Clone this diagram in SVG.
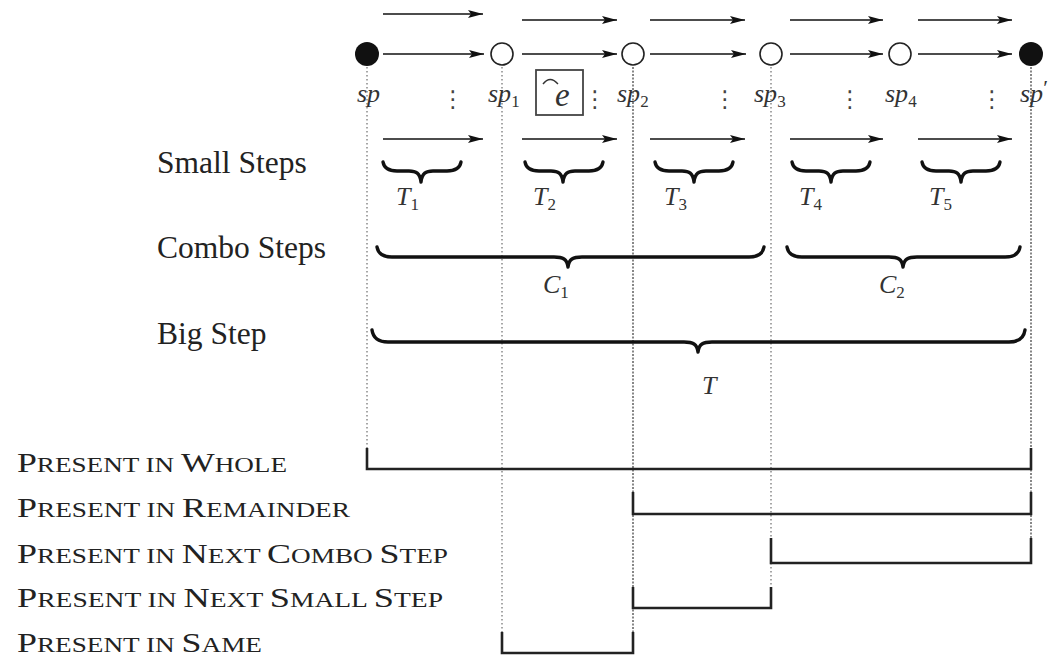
<svg xmlns="http://www.w3.org/2000/svg" width="1054" height="656" viewBox="0 0 1054 656">
<defs>
<marker id="ah" markerWidth="16" markerHeight="10" refX="15" refY="5" orient="auto" markerUnits="userSpaceOnUse">
<path d="M0,1 L15,5 L0,9 L3,5 z" fill="#111"/>
</marker>
<style>
.arr{stroke:#111;stroke-width:1.6;fill:none;marker-end:url(#ah)}
.dot{stroke:#777;stroke-width:1.3;stroke-dasharray:1.5 2.5;fill:none}
.dotd{stroke:#555;stroke-width:1.4;stroke-dasharray:2 1.5;fill:none}
.brk{stroke:#222;stroke-width:2.6;fill:none}
.brace{stroke:#111;stroke-width:3.4;fill:none;stroke-linejoin:round;stroke-linecap:round}
.lbl{font-family:"Liberation Serif","Times New Roman",serif;font-size:31.5px;fill:#222}
.math{font-family:"Liberation Serif","Times New Roman",serif;font-style:italic;font-size:26px;fill:#333}
.sub{font-size:17px;font-style:normal}
.prime{font-size:22px;font-style:normal}
.ehat{font-size:33px}
.sc{font-family:"Liberation Serif","Times New Roman",serif;fill:#222}
.big{font-size:27px}
.sm{font-size:20.5px}
.vd{font-family:"DejaVu Sans",sans-serif;font-size:23px;fill:#444;text-anchor:middle}
.open{fill:#fff;stroke:#222;stroke-width:1.6}
.fill{fill:#111}
</style>
</defs>

<!-- dotted guide lines -->
<g id="guides">
<line class="dot" x1="367" y1="67" x2="367" y2="448"/>
<line class="dot" x1="502" y1="67" x2="502" y2="632"/>
<line class="dotd" x1="633" y1="67" x2="633" y2="632"/>
<line class="dot" x1="771" y1="67" x2="771" y2="587"/>
<line class="dotd" x1="1031" y1="67" x2="1031" y2="538"/>
</g>

<!-- connectors -->
<g id="connectors">
<line class="arr" x1="383" y1="14" x2="483" y2="14"/>
<line class="arr" x1="522" y1="20" x2="617" y2="20"/>
<line class="arr" x1="650" y1="20" x2="745" y2="20"/>
<line class="arr" x1="790" y1="20" x2="883" y2="20"/>
<line class="arr" x1="918" y1="20" x2="1012" y2="20"/>

<line class="arr" x1="383" y1="54" x2="484" y2="54"/>
<line class="arr" x1="522" y1="54" x2="617" y2="54"/>
<line class="arr" x1="650" y1="54" x2="746" y2="54"/>
<line class="arr" x1="790" y1="54" x2="883" y2="54"/>
<line class="arr" x1="918" y1="54" x2="1012" y2="54"/>

<line class="arr" x1="383" y1="139" x2="483" y2="139"/>
<line class="arr" x1="522" y1="139" x2="617" y2="139"/>
<line class="arr" x1="650" y1="139" x2="745" y2="139"/>
<line class="arr" x1="790" y1="139" x2="883" y2="139"/>
<line class="arr" x1="918" y1="139" x2="1012" y2="139"/>
</g>

<!-- nodes -->
<g id="node-sp">
<circle class="fill" cx="367" cy="54" r="12"/>
<text class="math" x="357" y="102">sp</text>
</g>
<g id="node-sp1">
<circle class="open" cx="502" cy="54" r="11"/>
<text class="math" x="488" y="102">sp<tspan class="sub" dy="5">1</tspan></text>
</g>
<g id="node-sp2">
<circle class="open" cx="633" cy="54" r="11"/>
<text class="math" x="617" y="102">sp<tspan class="sub" dy="5">2</tspan></text>
</g>
<g id="node-sp3">
<circle class="open" cx="771" cy="54" r="11"/>
<text class="math" x="754" y="102">sp<tspan class="sub" dy="5">3</tspan></text>
</g>
<g id="node-sp4">
<circle class="open" cx="900" cy="54" r="11"/>
<text class="math" x="885" y="102">sp<tspan class="sub" dy="5">4</tspan></text>
</g>
<g id="node-spp">
<circle class="fill" cx="1031" cy="54" r="12"/>
<text class="math" x="1020" y="102">sp<tspan class="prime" dy="-7">′</tspan></text>
</g>

<!-- vertical ellipses -->
<g id="vdots">
<text class="vd" x="453" y="107">⋮</text>
<text class="vd" x="595" y="107">⋮</text>
<text class="vd" x="725" y="107">⋮</text>
<text class="vd" x="850" y="107">⋮</text>
<text class="vd" x="992" y="107">⋮</text>
</g>

<!-- e-hat box -->
<g id="ebox">
<rect x="536" y="70" width="47" height="45" fill="none" stroke="#444" stroke-width="1.8"/>
<path d="M543,84 Q550,75 558,84" fill="none" stroke="#333" stroke-width="1.4"/>
<text class="math ehat" x="555" y="106">e</text>
</g>

<!-- row labels -->
<g id="row-labels">
<text class="lbl" x="157" y="173">Small Steps</text>
<text class="lbl" x="157" y="258">Combo Steps</text>
<text class="lbl" x="157" y="344">Big Step</text>
</g>

<!-- small step braces -->
<g id="small-steps">
<path class="brace" d="M383,162 C384,168 388,171 397,171 H409 C416,171 420,173 421,182 C422,173 426,171 433,171 H447 C456,171 460,168 461,162"/>
<path class="brace" d="M525,162 C526,168 530,171 539,171 H551 C558,171 562,173 563,182 C564,173 568,171 575,171 H589 C598,171 602,168 603,162"/>
<path class="brace" d="M655,162 C656,168 660,171 669,171 H682 C689,171 693,173 694,182 C695,173 699,171 706,171 H719 C728,171 732,168 733,162"/>
<path class="brace" d="M792,162 C793,168 797,171 806,171 H819 C826,171 830,173 831,182 C832,173 836,171 843,171 H856 C865,171 869,168 870,162"/>
<path class="brace" d="M922,162 C923,168 927,171 936,171 H949 C956,171 960,173 961,182 C962,173 966,171 973,171 H986 C995,171 999,168 1000,162"/>
<text class="math" x="396" y="205">T<tspan class="sub" dy="5">1</tspan></text>
<text class="math" x="533" y="205">T<tspan class="sub" dy="5">2</tspan></text>
<text class="math" x="664" y="205">T<tspan class="sub" dy="5">3</tspan></text>
<text class="math" x="799" y="205">T<tspan class="sub" dy="5">4</tspan></text>
<text class="math" x="929" y="205">T<tspan class="sub" dy="5">5</tspan></text>
</g>

<!-- combo step braces -->
<g id="combo-steps">
<path class="brace" d="M377,247 C378,253 382,257 392,257 H554 C563,257 567,259 568,267 C569,259 573,257 582,257 H749 C759,257 763,253 764,247"/>
<path class="brace" d="M787,247 C788,253 792,257 802,257 H889 C898,257 902,259 903,267 C904,259 908,257 917,257 H1005 C1015,257 1019,253 1020,247"/>
<text class="math" x="543" y="293">C<tspan class="sub" dy="5">1</tspan></text>
<text class="math" x="879" y="293">C<tspan class="sub" dy="5">2</tspan></text>
</g>

<!-- big step brace -->
<g id="big-step">
<path class="brace" d="M372,330 C373,337 377,342 388,342 H684 C693,342 697,344 698,352 C699,344 703,342 712,342 H1009 C1020,342 1024,337 1025,330"/>
<text class="math" x="702" y="394">T</text>
</g>

<!-- presence brackets -->
<g id="present-whole">
<text class="sc" x="17" y="472" textLength="270" lengthAdjust="spacingAndGlyphs"><tspan class="big">P</tspan><tspan class="sm">RESENT IN </tspan><tspan class="big">W</tspan><tspan class="sm">HOLE</tspan></text>
<path class="brk" d="M367,448 V469 H1031 V448"/>
</g>
<g id="present-remainder">
<text class="sc" x="17" y="517" textLength="333" lengthAdjust="spacingAndGlyphs"><tspan class="big">P</tspan><tspan class="sm">RESENT IN </tspan><tspan class="big">R</tspan><tspan class="sm">EMAINDER</tspan></text>
<path class="brk" d="M633,492 V514 H1031 V492"/>
</g>
<g id="present-next-combo">
<text class="sc" x="17" y="563" textLength="431" lengthAdjust="spacingAndGlyphs"><tspan class="big">P</tspan><tspan class="sm">RESENT IN </tspan><tspan class="big">N</tspan><tspan class="sm">EXT </tspan><tspan class="big">C</tspan><tspan class="sm">OMBO </tspan><tspan class="big">S</tspan><tspan class="sm">TEP</tspan></text>
<path class="brk" d="M771,538 V563 H1031 V538"/>
</g>
<g id="present-next-small">
<text class="sc" x="17" y="607" textLength="426" lengthAdjust="spacingAndGlyphs"><tspan class="big">P</tspan><tspan class="sm">RESENT IN </tspan><tspan class="big">N</tspan><tspan class="sm">EXT </tspan><tspan class="big">S</tspan><tspan class="sm">MALL </tspan><tspan class="big">S</tspan><tspan class="sm">TEP</tspan></text>
<path class="brk" d="M633,587 V608 H771 V587"/>
</g>
<g id="present-same">
<text class="sc" x="17" y="652" textLength="245" lengthAdjust="spacingAndGlyphs"><tspan class="big">P</tspan><tspan class="sm">RESENT IN </tspan><tspan class="big">S</tspan><tspan class="sm">AME</tspan></text>
<path class="brk" d="M502,632 V653 H633 V632"/>
</g>
</svg>
